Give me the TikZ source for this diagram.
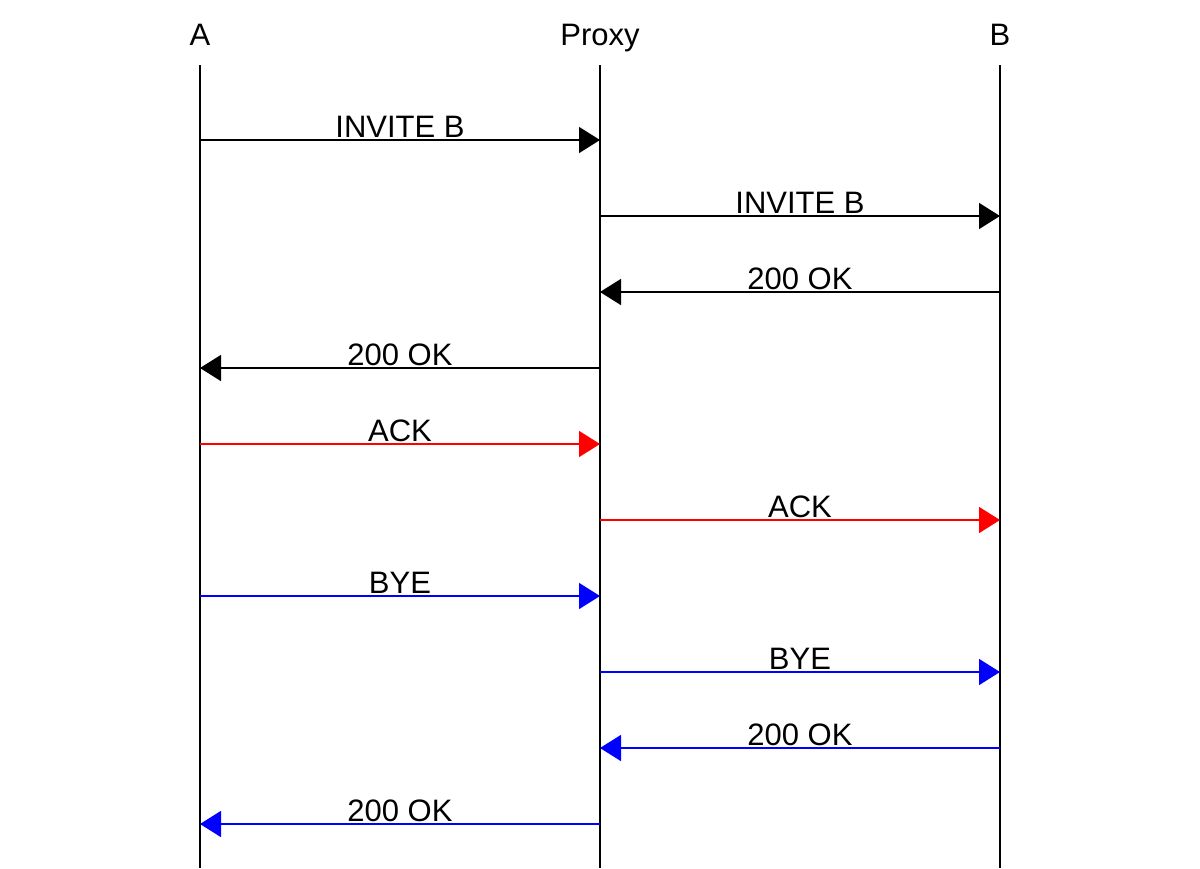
\documentclass[tikz,border=0pt]{standalone}
\usepackage{fontspec}
\setmainfont{Liberation Sans}
\usetikzlibrary{arrows.meta}
\begin{document}
\begin{tikzpicture}[x=1pt,y=-1pt,
  every node/.style={font=\fontsize{31}{36}\selectfont, inner sep=0pt},
  lifeline/.style={line width=1.6pt, black},
  msg/.style={line width=1.6pt, -{Triangle[length=21pt,width=26pt]}},
  lbl/.style={anchor=base}]
\useasboundingbox (0,0) rectangle (1200,868);
% headers
\node[lbl] (hA) at (200,45) {A};
\node[lbl] (hP) at (600,45) {Proxy};
\node[lbl] (hB) at (1000,45) {B};
% lifelines
\foreach \n/\x in {A/200,P/600,B/1000}{
  \coordinate (\n top) at (\x,65);
  \coordinate (\n bot) at (\x,868);
  \draw[lifeline] (\n top) -- (\n bot);
}
% message anchor points
\foreach \i/\y in {1/140,2/216,3/292,4/368,5/444,6/520,7/596,8/672,9/748,10/824}{
  \coordinate (A\i) at (200,\y);
  \coordinate (P\i) at (600,\y);
  \coordinate (B\i) at (1000,\y);
}
\draw[msg,black] (A1) -- (P1) node[lbl,midway,yshift=3pt] {INVITE B};
\draw[msg,black] (P2) -- (B2) node[lbl,midway,yshift=3pt] {INVITE B};
\draw[msg,black] (B3) -- (P3) node[lbl,midway,yshift=3pt] {200 OK};
\draw[msg,black] (P4) -- (A4) node[lbl,midway,yshift=3pt] {200 OK};
\draw[msg,red] (A5) -- (P5) node[lbl,midway,yshift=3pt,black] {ACK};
\draw[msg,red] (P6) -- (B6) node[lbl,midway,yshift=3pt,black] {ACK};
\draw[msg,blue] (A7) -- (P7) node[lbl,midway,yshift=3pt,black] {BYE};
\draw[msg,blue] (P8) -- (B8) node[lbl,midway,yshift=3pt,black] {BYE};
\draw[msg,blue] (B9) -- (P9) node[lbl,midway,yshift=3pt,black] {200 OK};
\draw[msg,blue] (P10) -- (A10) node[lbl,midway,yshift=3pt,black] {200 OK};
\end{tikzpicture}
\end{document}
